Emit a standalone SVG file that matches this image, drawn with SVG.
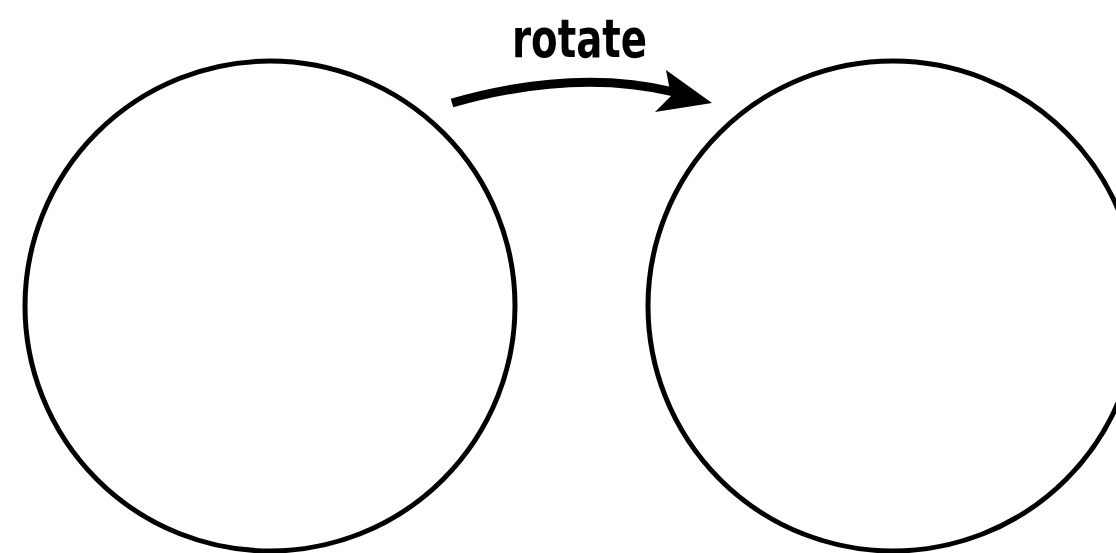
<svg xmlns="http://www.w3.org/2000/svg" width="1116" height="553" viewBox="0 0 1116 553">
<style>
.c{fill:none;stroke:#000;stroke-width:5}
.lbl{font-family:"DejaVu Sans Condensed","Liberation Sans",sans-serif;font-weight:bold;font-size:54px;fill:#000}
</style>
<rect width="1116" height="553" fill="#fff"/>
<g id="left-circle"><circle class="c" cx="270" cy="306" r="245"/></g>
<g id="right-circle"><circle class="c" cx="893" cy="306" r="245"/></g>
<g id="connectors">
<path d="M452,103 Q575,68 674,92" fill="none" stroke="#000" stroke-width="9"/>
<polygon points="666,70 712,103 655,112 671,96" fill="#000"/>
<text class="lbl" x="512" y="57" textLength="135" lengthAdjust="spacingAndGlyphs">rotate</text>
</g>
</svg>
